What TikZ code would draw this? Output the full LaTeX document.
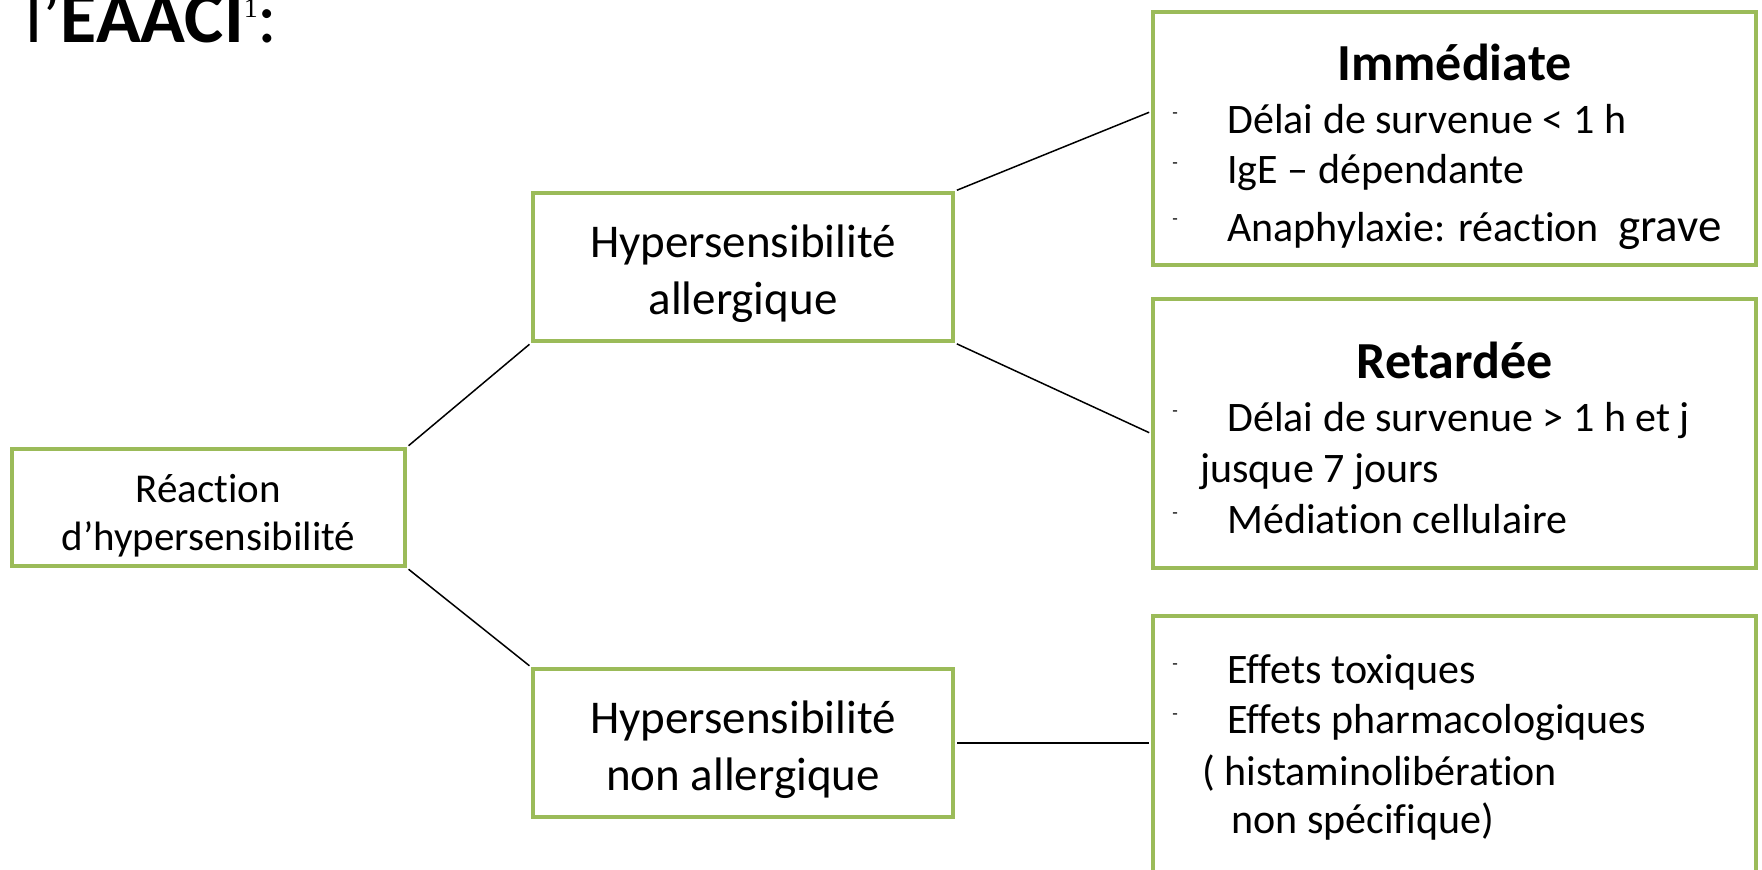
\documentclass[tikz,border=0pt]{standalone}
\usepackage{fontspec}
\setmainfont{Carlito}[Ligatures=NoCommon]
\newfontfamily\refnum{Liberation Serif}
\usepackage{tikz}
\usetikzlibrary{calc}

\definecolor{boxgreen}{HTML}{9BBB59}

\begin{document}
\begin{tikzpicture}[x=0.5pt,y=-0.5pt,
    box/.style={draw=boxgreen,line width=2pt,fill=white,inner sep=0pt},
    boxtext/.style={inner sep=0pt,align=center},
    head/.style={anchor=base,inner sep=0pt,
        font={\fontsize{26}{31}\selectfont\bfseries}},
    item/.style={anchor=base west,inner sep=0pt,
        font={\fontsize{21}{25}\selectfont}},
    puce/.style={inner sep=0pt,font={\fontsize{9}{10}\selectfont}},
    link/.style={black,line width=0.75pt,shorten <=1pt,shorten >=1pt},
    ]
    % Page frame
    \useasboundingbox (0,0) rectangle (1762,869);
    \clip (0,0) rectangle (1762,869);
    % Title (cut at the top)
    \node[anchor=base west,inner sep=0pt,font={\fontsize{37}{40}\selectfont}]
        (eaaci) at (25,42)
        {l’\textbf{EAACI}\raisebox{12.5pt}{\refnum\fontsize{14}{14}\selectfont 1}:};

    % Tree boxes
    \node[box,minimum width=196.5pt,minimum height=58.5pt]
        (reac) at (208.5,507.5) {};
    \node[boxtext,font={\fontsize{20.5}{24}\selectfont}]
        (reactxt) at ([yshift=-4pt]reac.center)
        {Réaction\\d’hypersensibilité};
    \node[box,minimum width=210pt,minimum height=74pt]
        (allerg) at (743,267) {};
    \node[boxtext,font={\fontsize{23.5}{28.5}\selectfont}]
        (allergtxt) at ([yshift=-3.5pt]allerg.center)
        {Hypersensibilité\\allergique};
    \node[box,minimum width=210pt,minimum height=74pt]
        (nonal) at (743,743) {};
    \node[boxtext,font={\fontsize{23.5}{28.5}\selectfont}]
        (nonaltxt) at ([yshift=-3.5pt]nonal.center)
        {Hypersensibilité\\non allergique};
    \node[box,minimum width=301.5pt,minimum height=126.5pt]
        (imm) at (1454.5,138.5) {};
    \node[box,minimum width=301.5pt,minimum height=134.5pt]
        (ret) at (1454.5,433.5) {};
    \node[box,minimum width=301.5pt,minimum height=144pt]
        (eff) at (1454.5,760) {};

    % Branches
    \draw[link] (reac.north east) -- (allerg.south west);
    \draw[link] (reac.south east) -- (nonal.north west);
    \draw[link] (allerg.north east) --
        ($(imm.north west)!0.395!(imm.south west)$);
    \draw[link] (allerg.south east) -- (ret.west);
    \draw[link] (nonal.east) -- (nonal.east -| eff.west);

    % Immediate
    \node[head] (immtitle) at (1454.5,80) {Immédiate};
    \node[puce] (imm1p) at (1175,116) {-};
    \node[item] (imm1) at (1227,133) {Délai de survenue < 1 h};
    \node[puce] (imm2p) at (1175,166) {-};
    \node[item] (imm2) at (1227,183) {IgE – dépendante};
    \node[puce] (imm3p) at (1175,222) {-};
    \node[item] (imm3) at (1227,241)
        {Anaphylaxie: réaction~\ {\fontsize{23.5}{28}\selectfont grave}};

    % Delayed
    \node[head] (rettitle) at (1454.5,378) {Retardée};
    \node[puce] (ret1p) at (1175,414) {-};
    \node[item] (ret1) at (1227,431) {Délai de survenue > 1 h et j};
    \node[item] (ret2) at (1200,482) {jusque 7 jours};
    \node[puce] (ret3p) at (1175,516) {-};
    \node[item] (ret3) at (1227,533) {Médiation cellulaire};

    % Non allergic effects
    \node[puce] (eff1p) at (1175,667) {-};
    \node[item] (eff1) at (1227,683) {Effets toxiques};
    \node[puce] (eff2p) at (1175,717) {-};
    \node[item] (eff2) at (1227,733) {Effets pharmacologiques};
    \node[item] (eff3) at (1202,785) {( histaminolibération};
    \node[item] (eff4) at (1231,833) {non spécifique)};
\end{tikzpicture}
\end{document}
